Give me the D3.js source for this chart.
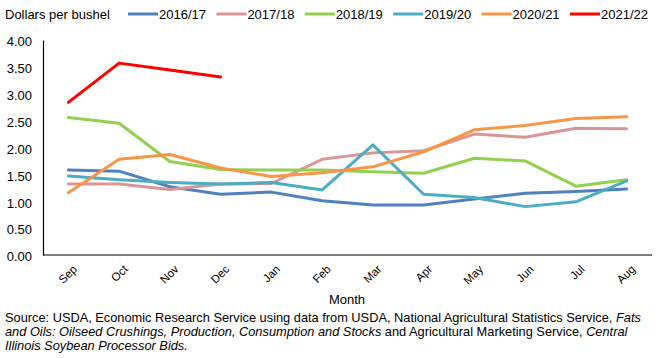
<!DOCTYPE html>
<html><head><meta charset="utf-8">
<script src="https://cdn.jsdelivr.net/npm/d3@7"></script>
<style>
body{margin:0;background:#fff;}
text{font-family:"Liberation Sans",Arial,sans-serif;fill:#000;}
</style></head>
<body><svg id="c" width="663" height="358"></svg>
<script>
const months = ["Sep","Oct","Nov","Dec","Jan","Feb","Mar","Apr","May","Jun","Jul","Aug"];
const seriesNames = ["2016/17","2017/18","2018/19","2019/20","2020/21","2021/22"];
const seriesColors = ["#4F81BD","#D99694","#92D050","#4BACC6","#F79646","#FF0000"];
const v2016 = [1.58,1.56,1.27,1.13,1.17,1.01,0.93,0.93,1.04,1.15,1.18,1.23];
const v2017 = [1.32,1.32,1.22,1.32,1.33,1.78,1.90,1.94,2.25,2.19,2.36,2.35];
const v2018 = [2.56,2.45,1.74,1.59,1.58,1.58,1.55,1.52,1.80,1.75,1.28,1.40];
const v2019 = [1.47,1.40,1.35,1.32,1.35,1.21,2.05,1.13,1.07,0.90,0.99,1.38];
const v2020 = [1.16,1.78,1.87,1.62,1.46,1.53,1.64,1.92,2.33,2.41,2.54,2.57];
const v2021 = [2.84,3.57,3.44,3.31];
const yTicks = [0,0.5,1,1.5,2,2.5,3,3.5,4];
const yLabel = "Dollars per bushel";
const xTitle = "Month";
const sourceLines = [
  [["Source: USDA, Economic Research Service using data from USDA, National Agricultural Statistics Service, ",false],["Fats",true]],
  [["and Oils: Oilseed Crushings, Production, Consumption and Stocks",true],[" and Agricultural Marketing Service, ",false],["Central",true]],
  [["Illinois Soybean Processor Bids.",true]]
];
const allValues = [v2016,v2017,v2018,v2019,v2020,v2021];
const FF = "Liberation Sans, Arial, sans-serif";

const svg = d3.select("#c");
const x = d3.scalePoint().domain(months).range([43,652]).padding(0.5);
const y = d3.scaleLinear().domain([0,4]).range([255,40]);

// y axis
const yAxis = svg.append("g").attr("transform","translate(43,0)")
  .call(d3.axisLeft(y).tickValues(yTicks).tickSize(0).tickPadding(11).tickFormat(d3.format(".2f")));
yAxis.attr("font-family",FF);
yAxis.select(".domain").attr("stroke","#000").attr("stroke-width",1.2);
yAxis.selectAll("text").attr("font-size","13px").attr("dy","0.45em");

// x axis
const xAxis = svg.append("g").attr("transform","translate(0,255)")
  .call(d3.axisBottom(x).tickSize(0).tickFormat(""));
xAxis.attr("font-family",FF);
xAxis.select(".domain").attr("d","M43,0H652").attr("stroke","#000").attr("stroke-width",1.2);
xAxis.selectAll(".tick").append("text")
  .attr("transform","translate(6,12) rotate(-45)")
  .attr("text-anchor","end").attr("dy","0.35em")
  .attr("font-size","11.5px").attr("fill","#000")
  .text(d=>d);

// lines
const line = d3.line().x((d,i)=>x(months[i])).y(d=>y(d));
allValues.forEach((vals,k)=>{
  svg.append("path").datum(vals)
    .attr("d",line).attr("fill","none")
    .attr("stroke",seriesColors[k]).attr("stroke-width",3)
    .attr("stroke-linejoin","round").attr("stroke-linecap","round");
});

// legend
svg.append("text").attr("x",5).attr("y",18.5).attr("font-size","13px").text(yLabel);
seriesNames.forEach((n,k)=>{
  const x0 = 128 + k*88.4;
  svg.append("line").attr("x1",x0).attr("x2",x0+30).attr("y1",14).attr("y2",14)
    .attr("stroke",seriesColors[k]).attr("stroke-width",3);
  svg.append("text").attr("x",x0+31).attr("y",18.5).attr("font-size","13px").text(n);
});

// x title
svg.append("text").attr("x",347).attr("y",304).attr("text-anchor","middle").attr("font-size","13px").text(xTitle);

// source
sourceLines.forEach((parts,i)=>{
  const t = svg.append("text").attr("x",5).attr("y",322+i*14).attr("font-size","12.8px");
  parts.forEach(p=>{
    t.append("tspan").attr("font-style",p[1]?"italic":"normal").text(p[0]);
  });
});
</script></body></html>
